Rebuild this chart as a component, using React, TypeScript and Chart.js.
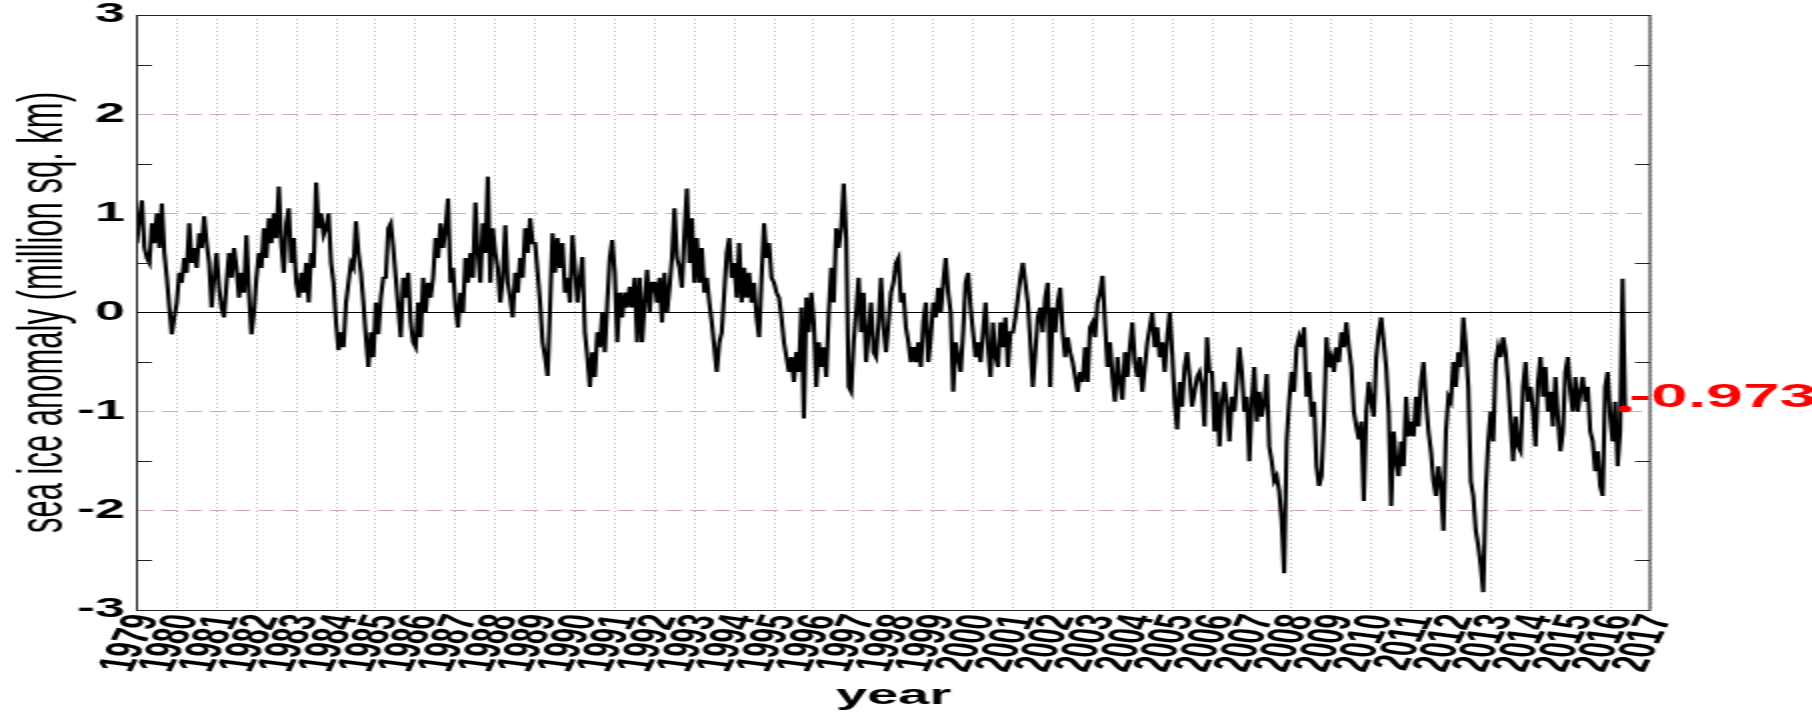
import { useEffect, useRef } from 'react';
import { Chart, registerables } from 'chart.js';

Chart.register(...registerables);

// The figure is laid out at half width and then widened by CSS,
// which gives its wide lettering and heavier vertical strokes.
const SQUEEZE = 2;
const PAGE_W = 1812;
const PAGE_H = 716;
const CANVAS_W = PAGE_W / SQUEEZE;

const FONT = "'Liberation Sans', Arial, Helvetica, sans-serif";

const yearLabels = [
  '1979', '1980', '1981', '1982', '1983', '1984', '1985', '1986', '1987', '1988',
  '1989', '1990', '1991', '1992', '1993', '1994', '1995', '1996', '1997', '1998',
  '1999', '2000', '2001', '2002', '2003', '2004', '2005', '2006', '2007', '2008',
  '2009', '2010', '2011', '2012', '2013', '2014', '2015', '2016', '2017',
];
const yTickLabels = ['-3', '-2', '-1', '0', '1', '2', '3'];
const halfUnitTicks = [-2.5, -1.5, -0.5, 0.5, 1.5, 2.5];

const firstYear = 1979;
const samplesPerYear = 16;

// sea ice extent anomaly, million sq. km, 16 readings per year
const a1979 = [0.7, 0.95, 1.13, 0.65, 0.55, 0.5, 0.9, 0.7, 1.0, 0.65, 1.1, 0.6, 0.35, 0.05, -0.22, -0.05];
const a1980 = [0.1, 0.4, 0.3, 0.55, 0.4, 0.9, 0.5, 0.65, 0.45, 0.8, 0.65, 0.97, 0.7, 0.5, 0.05, 0.35];
const a1981 = [0.6, 0.25, 0.05, -0.05, 0.3, 0.6, 0.35, 0.65, 0.45, 0.15, 0.4, 0.2, 0.78, 0.2, -0.22, 0.0];
const a1982 = [0.35, 0.6, 0.45, 0.85, 0.55, 0.95, 0.7, 1.0, 0.75, 1.27, 0.7, 0.4, 0.9, 1.05, 0.5, 0.75];
const a1983 = [0.3, 0.15, 0.4, 0.2, 0.5, 0.1, 0.6, 0.45, 1.31, 0.85, 1.0, 0.78, 0.85, 1.0, 0.5, 0.3];
const a1984 = [-0.1, -0.38, -0.2, -0.35, 0.1, 0.3, 0.5, 0.45, 0.92, 0.6, 0.4, 0.1, -0.25, -0.55, -0.2, -0.45];
const a1985 = [0.1, -0.22, 0.15, 0.35, 0.35, 0.85, 0.9, 0.65, 0.35, 0.05, -0.25, 0.35, 0.15, 0.4, -0.1, -0.3];
const a1986 = [-0.35, 0.1, -0.25, 0.35, 0.0, 0.3, 0.15, 0.35, 0.75, 0.55, 0.9, 0.65, 0.85, 1.15, 0.3, 0.45];
const a1987 = [0.05, -0.15, 0.2, 0.0, 0.55, 0.3, 0.6, 0.35, 1.11, 0.6, 0.3, 0.9, 0.6, 1.37, 0.3, 0.85];
const a1988 = [0.6, 0.45, 0.1, 0.35, 0.88, 0.3, 0.15, -0.05, 0.4, 0.2, 0.55, 0.35, 0.85, 0.6, 0.95, 0.7];
const a1989 = [0.7, 0.4, 0.1, -0.3, -0.45, -0.64, 0.05, 0.8, 0.4, 0.75, 0.45, 0.7, 0.2, 0.35, 0.1, 0.78];
const a1990 = [0.45, 0.1, 0.35, 0.56, -0.2, -0.45, -0.75, -0.4, -0.65, -0.2, -0.35, 0.0, -0.4, 0.1, 0.55, 0.73];
const a1991 = [0.4, -0.3, 0.2, -0.05, 0.2, 0.05, 0.26, 0.05, 0.35, -0.3, 0.35, -0.3, 0.1, 0.43, 0.0, 0.3];
const a1992 = [0.3, 0.1, 0.35, -0.1, 0.4, 0.0, 0.25, 0.55, 1.05, 0.55, 0.45, 0.25, 0.8, 1.25, 0.5, 0.95];
const a1993 = [0.3, 0.75, 0.3, 0.65, 0.2, 0.35, 0.1, -0.1, -0.35, -0.6, -0.3, -0.2, 0.2, 0.6, 0.75, 0.35];
const a1994 = [0.5, 0.15, 0.7, 0.1, 0.45, 0.15, 0.4, 0.1, 0.3, -0.05, -0.25, 0.35, 0.9, 0.55, 0.7, 0.35];
const a1995 = [0.3, 0.2, 0.15, -0.05, -0.3, -0.45, -0.6, -0.45, -0.7, -0.4, -0.6, 0.05, -1.07, 0.15, -0.2, 0.2];
const a1996 = [-0.1, -0.75, -0.3, -0.55, -0.35, -0.65, 0.0, 0.45, 0.1, 0.85, 0.65, 0.85, 1.3, 0.75, -0.75, -0.8];
const a1997 = [-0.3, 0.0, 0.35, -0.2, 0.2, -0.5, -0.2, 0.1, -0.4, -0.45, -0.1, 0.35, -0.15, -0.4, -0.1, 0.2];
const a1998 = [0.3, 0.5, 0.55, 0.1, 0.2, -0.15, -0.3, -0.5, -0.35, -0.5, -0.3, -0.55, -0.1, 0.1, -0.5, -0.25];
const a1999 = [0.1, -0.05, 0.25, 0.0, 0.3, 0.55, 0.2, 0.0, -0.8, -0.3, -0.45, -0.6, -0.2, 0.3, 0.4, 0.05];
const a2000 = [-0.2, -0.45, -0.3, -0.5, -0.2, 0.1, -0.35, -0.65, -0.1, -0.45, -0.55, -0.1, -0.35, -0.05, -0.55, -0.2];
const a2001 = [-0.2, -0.05, 0.15, 0.35, 0.5, 0.3, 0.1, -0.3, -0.75, -0.4, -0.05, 0.05, -0.2, 0.15, 0.3, -0.75];
const a2002 = [0.05, -0.2, 0.1, 0.25, -0.2, -0.45, -0.25, -0.4, -0.5, -0.65, -0.8, -0.6, -0.7, -0.35, -0.7, -0.15];
const a2003 = [-0.1, -0.25, 0.1, 0.2, 0.37, -0.1, -0.55, -0.3, -0.65, -0.9, -0.45, -0.7, -0.88, -0.4, -0.65, -0.35];
const a2004 = [-0.1, -0.5, -0.65, -0.45, -0.8, -0.55, -0.3, -0.15, 0.0, -0.35, -0.15, -0.45, -0.3, -0.6, -0.25, 0.0];
const a2005 = [-0.4, -0.9, -1.18, -0.7, -0.95, -0.55, -0.4, -0.65, -0.95, -0.8, -0.65, -0.6, -0.75, -1.15, -0.25, -0.6];
const a2006 = [-0.6, -1.2, -0.8, -1.35, -0.9, -0.7, -0.95, -1.3, -0.85, -1.0, -0.7, -0.35, -0.6, -1.0, -0.85, -1.5];
const a2007 = [-0.9, -0.55, -1.1, -0.8, -1.05, -0.9, -0.62, -1.35, -1.5, -1.7, -1.65, -1.8, -2.1, -2.63, -1.3, -0.9];
const a2008 = [-0.6, -0.8, -0.35, -0.25, -0.35, -0.15, -0.85, -0.6, -1.05, -0.9, -1.55, -1.75, -1.65, -1.1, -0.25, -0.55];
const a2009 = [-0.45, -0.6, -0.35, -0.5, -0.2, -0.35, -0.1, -0.35, -0.55, -1.0, -1.15, -1.28, -1.1, -1.9, -1.0, -0.7];
const a2010 = [-0.9, -1.05, -0.45, -0.2, -0.05, -0.3, -0.55, -1.0, -1.95, -1.2, -1.5, -1.65, -1.3, -1.55, -0.85, -1.25];
const a2011 = [-1.1, -1.25, -0.85, -1.15, -0.7, -0.5, -0.9, -1.2, -1.4, -1.7, -1.85, -1.55, -1.75, -2.2, -1.2, -0.85];
const a2012 = [-0.9, -0.5, -0.75, -0.4, -0.55, -0.05, -0.35, -0.75, -1.7, -1.85, -2.2, -2.35, -2.55, -2.82, -1.8, -1.3];
const a2013 = [-1.0, -1.3, -0.5, -0.35, -0.45, -0.25, -0.4, -0.7, -1.1, -1.5, -1.05, -1.35, -1.4, -0.75, -0.5, -0.9];
const a2014 = [-0.75, -1.0, -1.35, -0.7, -0.45, -0.85, -0.55, -1.0, -0.8, -1.15, -0.65, -1.05, -1.4, -1.2, -0.6, -0.45];
const a2015 = [-0.8, -1.0, -0.65, -1.0, -0.8, -0.65, -0.9, -0.75, -1.2, -1.3, -1.6, -1.4, -1.75, -1.85, -0.75, -0.6];
const a2016 = [-1.05, -1.3, -0.9, -1.55, -1.2, 0.34, -0.973];

const anomalyByYear = [
  a1979, a1980, a1981, a1982, a1983, a1984, a1985, a1986, a1987, a1988,
  a1989, a1990, a1991, a1992, a1993, a1994, a1995, a1996, a1997, a1998,
  a1999, a2000, a2001, a2002, a2003, a2004, a2005, a2006, a2007, a2008,
  a2009, a2010, a2011, a2012, a2013, a2014, a2015, a2016,
];

const GRID_PINK = 'rgba(196, 140, 140, 0.75)';
const DOT_PINK = 'rgba(215, 140, 140, 0.7)';
const LATEST_RED = '#ff0000';

type Pt = { x: number; y: number };

const frameAndLabel = {
  id: 'frameAndLabel',
  afterDatasetsDraw(chart: any) {
    const { ctx, chartArea: a, scales } = chart;
    const y = scales.y;
    ctx.save();
    // plot frame
    ctx.strokeStyle = '#222';
    ctx.lineWidth = 1;
    ctx.strokeRect(a.left, a.top + 0.5, a.right - a.left, a.bottom - a.top);
    // inward half-unit ticks on both vertical sides
    ctx.beginPath();
    for (const v of halfUnitTicks) {
      const py = Math.round(y.getPixelForValue(v)) + 0.5;
      ctx.moveTo(a.left, py);
      ctx.lineTo(a.left + 7.5, py);
      ctx.moveTo(a.right, py);
      ctx.lineTo(a.right - 7.5, py);
    }
    ctx.stroke();
    // value of the latest reading, next to its red marker
    const meta = chart.getDatasetMeta(0);
    const el = meta.data[0];
    const raw = chart.data.datasets[0].data[0] as Pt;
    if (el) {
      ctx.fillStyle = LATEST_RED;
      ctx.font = `bold 33px ${FONT}`;
      ctx.textAlign = 'left';
      ctx.textBaseline = 'middle';
      ctx.fillText(raw.y.toFixed(3), el.x + 2, el.y - 11);
    }
    ctx.restore();
  },
};

export default function App() {
  const ref = useRef<HTMLCanvasElement>(null);

  useEffect(() => {
    const canvas = ref.current;
    if (!canvas) return;

    const series: Pt[] = [];
    anomalyByYear.forEach((vals, k) => {
      vals.forEach((v, i) => series.push({ x: firstYear + k + i / samplesPerYear, y: v }));
    });
    const latest = series[series.length - 1];

    const chart = new Chart(canvas, {
      type: 'line',
      data: {
        datasets: [
          {
            label: 'latest',
            data: [latest],
            showLine: false,
            pointRadius: 3.2,
            pointBackgroundColor: LATEST_RED,
            pointBorderWidth: 0,
          },
          {
            label: 'anomaly',
            data: series,
            borderColor: '#000',
            borderWidth: 2.1,
            borderJoinStyle: 'miter',
            pointRadius: 0,
            tension: 0,
            fill: false,
          },
          {
            label: 'zero',
            data: [{ x: 1979, y: 0 }, { x: 2017, y: 0 }],
            borderColor: '#000',
            borderWidth: 1,
            pointRadius: 0,
          },
        ],
      },
      options: {
        responsive: false,
        animation: false,
        devicePixelRatio: 1,
        events: [],
        layout: { padding: { top: 15, right: 81, bottom: 0, left: 0 } },
        plugins: { legend: { display: false }, tooltip: { enabled: false } },
        scales: {
          x: {
            type: 'linear',
            min: 1979,
            max: 2017,
            grid: { color: DOT_PINK, lineWidth: 1, drawTicks: false },
            border: { display: false, dash: [1, 3] },
            ticks: {
              stepSize: 1,
              autoSkip: false,
              minRotation: 76,
              maxRotation: 76,
              padding: 2,
              labelOffset: 4,
              color: '#000',
              font: { family: FONT, size: 26, weight: 'bold', lineHeight: 1 },
              callback: (v: any) => yearLabels[Math.round(Number(v)) - firstYear] ?? '',
            },
            title: {
              display: true,
              text: 'year',
              color: '#000',
              font: { family: FONT, size: 28, weight: 'bold', lineHeight: 1 },
              padding: { top: 0, bottom: 6 },
            },
            afterFit: (s: any) => {
              s.height = 106;
              s.paddingLeft = 0;
              s.paddingRight = 0;
            },
          },
          y: {
            type: 'linear',
            min: -3,
            max: 3,
            grid: {
              drawTicks: false,
              lineWidth: 1,
              color: (c: any) => {
                const v = c.tick ? c.tick.value : 99;
                return Math.abs(v) === 1 || Math.abs(v) === 2 ? GRID_PINK : 'rgba(0,0,0,0)';
              },
            },
            border: { display: false, dash: [8, 4] },
            ticks: {
              stepSize: 1,
              padding: 6,
              color: '#000',
              font: { family: FONT, size: 27, weight: 'bold', lineHeight: 1 },
              callback: (v: any) => yTickLabels[Math.round(Number(v)) + 3] ?? '',
            },
            title: {
              display: true,
              text: 'sea ice anomaly (million sq. km)',
              color: '#000',
              font: { family: FONT, size: 31, weight: 'normal', lineHeight: 1 },
              padding: { top: 7, bottom: 0 },
            },
            afterFit: (s: any) => {
              s.width = 68.5;
              s.paddingTop = 0;
              s.paddingBottom = 0;
            },
          },
        },
      },
      plugins: [frameAndLabel],
    } as any);

    return () => chart.destroy();
  }, []);

  return (
    <div style={{ position: 'absolute', left: 0, top: 0, width: PAGE_W, height: PAGE_H, background: '#fff' }}>
      <canvas
        ref={ref}
        width={CANVAS_W}
        height={PAGE_H}
        style={{ display: 'block', width: `${PAGE_W}px`, height: `${PAGE_H}px` }}
      />
    </div>
  );
}
